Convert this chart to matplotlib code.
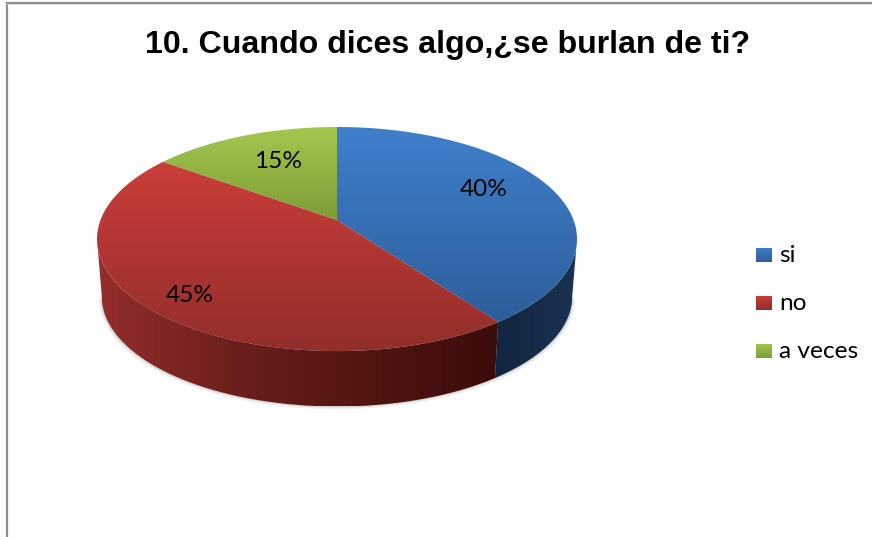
"""
3D style pie chart: 10. Cuando dices algo, se burlan de ti?
"""
import matplotlib
matplotlib.use('Agg')
import matplotlib.pyplot as plt
from matplotlib.colors import LinearSegmentedColormap
from matplotlib.patches import Polygon
import numpy as np

title = '10. Cuando dices algo,¿se burlan de ti?'
categories = ['si', 'no', 'a veces']
values = [40, 45, 15]

# top surface gradient (far edge, near edge), wall gradient (left, right)
top_colors = [('#3f80cc', '#2e5e9b'), ('#cb3e3a', '#922e2a'), ('#a3c84e', '#7c9c38')]
wall_colors = [['#122540', '#1a3252'],
               ['#932e2b', '#6d201d', '#521512', '#3a0c0a'],
               ['#6f8a30', '#5c7428']]
label_pos = [(484, 190), (190, 295), (278, 162)]
legend_y = [255, 303, 351]

# perspective of the disc, in pixels of the picture
CX, CY = 337, 220
RX, RY = 236.5, 108.8
K = 0.17
DEPTH = 58
SHRINK = 0.98

plt.rcParams['font.family'] = 'Lato'


def project(theta, bottom=False):
    """theta in degrees, clockwise from 12 o'clock, on the rim of the disc"""
    t = np.radians(theta)
    w = 1 + K * np.cos(t)
    x = RX * np.sin(t) / w
    y = -RY * np.cos(t) / w
    if bottom:
        return CX + SHRINK * x, CY + DEPTH + SHRINK * y
    return CX + x, CY + y


def gradient_fill(ax, patch, colors, horizontal=False):
    """Fill a patch with a linear gradient over its own bounding box"""
    ax.add_patch(patch)
    xy = patch.get_xy()
    x0, y0 = xy.min(axis=0)
    x1, y1 = xy.max(axis=0)
    cmap = LinearSegmentedColormap.from_list('g', colors)
    ramp = np.linspace(0, 1, 256)
    ramp = ramp[None, :] if horizontal else ramp[:, None]
    im = ax.imshow(ramp, cmap=cmap, extent=(x0, x1, y1, y0), origin='upper',
                   aspect='auto', interpolation='bilinear', zorder=patch.get_zorder())
    im.set_clip_path(patch)


def create_figure():
    fig = plt.figure(figsize=(8.72, 5.37), dpi=100)
    ax = fig.add_axes([0, 0, 1, 1])

    # chart frame
    ax.plot([6.5, 6.5, 872], [537, 2.5, 2.5], color='#8c8c8c', lw=1.6,
            solid_joinstyle='miter', zorder=1)
    ax.plot([6.5, 872], [4.2, 4.2], color='#dcdcdc', lw=0.8, zorder=1)

    edges = np.concatenate([[0], np.cumsum(values)]) * 360 / sum(values)

    # the wall is seen only between the two silhouette angles of the disc
    vis0 = np.degrees(np.arccos(-K))
    vis1 = 360 - vis0

    # soft shadow below the wall
    th = np.linspace(vis0, vis1, 200)
    for grow, alpha in [(3.0, 0.05), (2.0, 0.08), (1.0, 0.12)]:
        sx, sy = project(th, bottom=True)
        sx = CX + (sx - CX) * (1 + grow / 235)
        ax.fill(sx, sy + grow, color='#555555', alpha=alpha, lw=0, zorder=2)

    # walls, then top surfaces
    for i in range(len(values)):
        a, b = max(edges[i], vis0), min(edges[i + 1], vis1)
        if a >= b:
            continue
        th = np.linspace(a, b, 200)
        tx, ty = project(th)
        bx, by = project(th, bottom=True)
        wall = np.c_[np.r_[tx, bx[::-1]], np.r_[ty, by[::-1]]]
        gradient_fill(ax, Polygon(wall, closed=True, fc='none', ec='none', zorder=3),
                      wall_colors[i], horizontal=True)

    for i in range(len(values)):
        th = np.linspace(edges[i], edges[i + 1], 200)
        tx, ty = project(th)
        top = np.c_[np.r_[CX, tx], np.r_[CY, ty]]
        gradient_fill(ax, Polygon(top, closed=True, fc='none', ec='none', zorder=4),
                      top_colors[i])

    # percent labels
    for v, (x, y) in zip(values, label_pos):
        ax.text(x, y, f'{v}%', fontsize=17.6, color='black', ha='center',
                va='center', zorder=5)

    # legend
    for name, y, cols in zip(categories, legend_y, top_colors):
        box = np.array([[756, y - 7.5], [772, y - 7.5], [772, y + 7.5], [756, y + 7.5]])
        gradient_fill(ax, Polygon(box, closed=True, fc='none', ec='none', zorder=4), cols)
        ax.text(779, y, name, fontsize=17.6, color='black', ha='left',
                va='center', zorder=5)

    ax.text(447.5, 45, title, fontsize=23.1, fontweight='bold', family='Liberation Sans',
            color='black', ha='center', va='center', zorder=5)

    ax.set_xlim(0, 872)
    ax.set_ylim(537, 0)
    ax.axis('off')
    fig.savefig('out.png', dpi=100, facecolor='white')
    plt.close(fig)


if __name__ == "__main__":
    create_figure()
